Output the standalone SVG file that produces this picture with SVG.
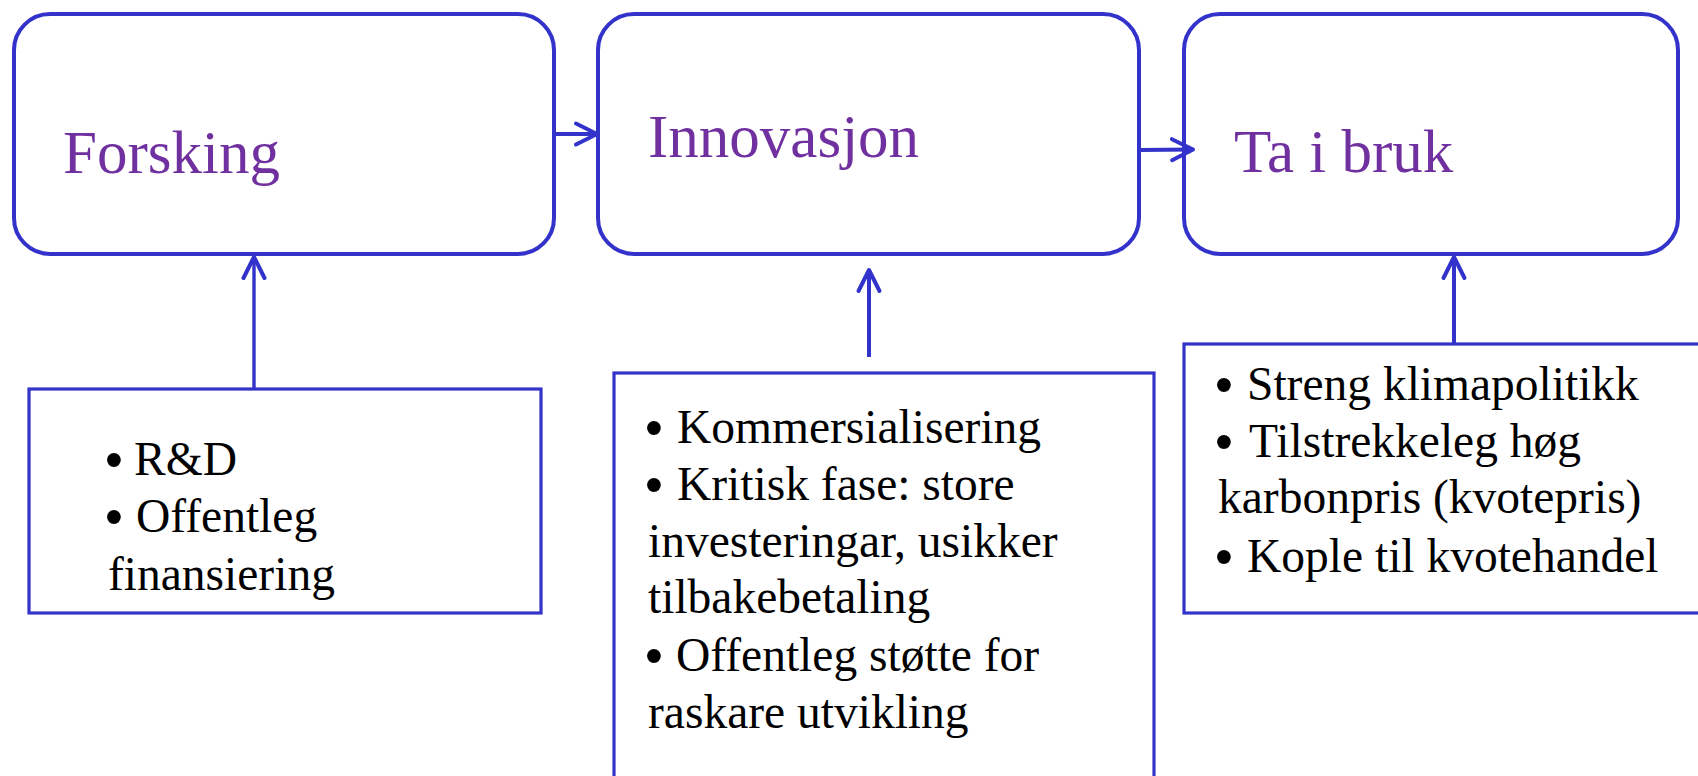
<svg xmlns="http://www.w3.org/2000/svg" width="1698" height="776" viewBox="0 0 1698 776">
<defs>
<style>
.stage{fill:#FFFFFF;stroke:#3333CC;stroke-width:4}
.box{fill:#FFFFFF;stroke:#3333CC;stroke-width:3.2}
.title{font-family:"Liberation Serif","Times New Roman",serif;font-size:61px;fill:#7030A0}
.body{font-family:"Liberation Serif","Times New Roman",serif;font-size:47.5px;fill:#000000}
.bul{font-family:"Liberation Sans",Arial,sans-serif;font-size:51px;fill:#000000}
.conn{fill:none;stroke:#3333CC;stroke-width:4;stroke-linecap:butt}
.conn2{fill:none;stroke:#3333CC;stroke-width:3.4}
</style>
<marker id="arr" viewBox="0 0 24 26" refX="22" refY="13" markerWidth="24" markerHeight="26" markerUnits="userSpaceOnUse" orient="auto" overflow="visible">
<path d="M1,2.5 L22,13 L1,23.5" fill="none" stroke="#3333CC" stroke-width="4" stroke-linecap="round" stroke-linejoin="round"/>
</marker>
</defs>
<rect width="1698" height="776" fill="#FFFFFF"/>

<g id="forsking">
<rect class="stage" x="14" y="14" width="540" height="240" rx="36" ry="36"/>
<text class="title" x="63" y="173">Forsking</text>
</g>

<g id="innovasjon">
<rect class="stage" x="598" y="14" width="541" height="240" rx="36" ry="36"/>
<text class="title" x="648" y="157">Innovasjon</text>
</g>

<g id="ta-i-bruk">
<rect class="stage" x="1184" y="14" width="494" height="240" rx="36" ry="36"/>
<text class="title" x="1234" y="172">Ta i bruk</text>
</g>

<g id="forsking-tiltak">
<rect class="box" x="29" y="389" width="512" height="224"/>
<text class="bul" x="105" y="477">•</text>
<text class="body" x="134" y="475">R&amp;D</text>
<text class="bul" x="105" y="534">•</text>
<text class="body" x="136" y="532">Offentleg</text>
<text class="body" x="108" y="590">finansiering</text>
</g>

<g id="innovasjon-tiltak">
<rect class="box" x="614" y="373" width="540" height="430"/>
<text class="bul" x="645" y="445">•</text>
<text class="body" x="677" y="443">Kommersialisering</text>
<text class="bul" x="645" y="502">•</text>
<text class="body" x="677" y="500">Kritisk fase: store</text>
<text class="body" x="648" y="557">investeringar, usikker</text>
<text class="body" x="648" y="613">tilbakebetaling</text>
<text class="bul" x="645" y="673">•</text>
<text class="body" x="676" y="671">Offentleg støtte for</text>
<text class="body" x="648" y="728">raskare utvikling</text>
</g>

<g id="ta-i-bruk-tiltak">
<rect class="box" x="1184" y="344" width="530" height="269"/>
<text class="bul" x="1215" y="402">•</text>
<text class="body" x="1247" y="400">Streng klimapolitikk</text>
<text class="bul" x="1215" y="459">•</text>
<text class="body" x="1249" y="457">Tilstrekkeleg høg</text>
<text class="body" x="1218" y="513">karbonpris (kvotepris)</text>
<text class="bul" x="1215" y="574">•</text>
<text class="body" x="1247" y="572">Kople til kvotehandel</text>
</g>

<g id="connectors">
<line class="conn" x1="554" y1="134" x2="597" y2="134" marker-end="url(#arr)"/>
<line class="conn" x1="1139" y1="150" x2="1193" y2="149.5" marker-end="url(#arr)"/>
<line class="conn2" x1="254" y1="389" x2="254" y2="257" marker-end="url(#arr)"/>
<line class="conn" x1="869" y1="357" x2="869" y2="270" marker-end="url(#arr)"/>
<line class="conn" x1="1454" y1="344" x2="1454" y2="257" marker-end="url(#arr)"/>
</g>
</svg>
